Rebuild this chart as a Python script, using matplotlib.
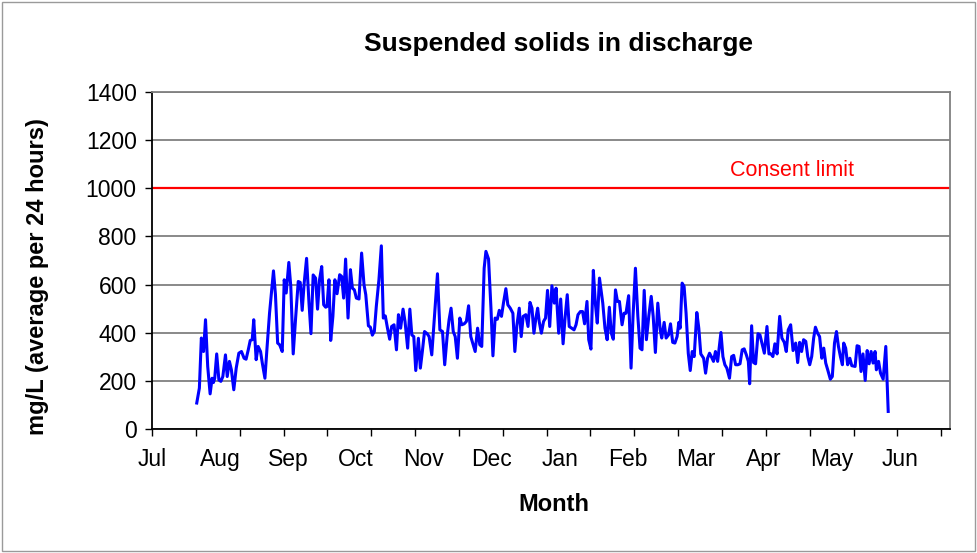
import numpy as np
import matplotlib
matplotlib.use('Agg')
import matplotlib.pyplot as plt
from matplotlib.patches import Rectangle

plt.rcParams['font.family'] = ['Liberation Sans', 'DejaVu Sans']

# daily suspended solids (mg/L), x = days from 1 Jul
day = [20.4, 21.6, 22.5, 23.5, 24.4, 25.4, 26.5, 27.4, 28.0, 28.6, 29.5, 30.5, 31.4, 32.3,
       33.5, 34.3, 35.3, 36.2, 37.3, 38.4, 39.6, 40.8, 42.0, 42.9, 43.9, 44.8, 45.7, 46.4,
       47.5, 48.4, 49.5, 50.3, 51.5, 52.5, 53.6, 54.5, 55.4, 56.3, 57.3, 58.2, 59.4, 60.3,
       61.2, 62.4, 63.3, 64.4, 65.5, 66.7, 67.6, 68.5, 69.4, 70.5, 71.6, 72.5,
       73.5, 74.6, 75.5, 76.4, 77.4, 78.3, 79.2, 79.8, 80.7, 81.5, 82.5, 83.4, 84.4, 85.6,
       86.5, 87.4, 88.3, 89.4, 90.5, 91.4, 92.3, 93.2, 94.4, 95.6, 96.7, 97.5, 98.7, 99.6,
       100.5, 101.4, 102.3, 103.5, 104.6, 105.5, 106.4, 107.4, 108.4, 109.3, 110.4, 111.5,
       112.4, 113.4, 114.5, 115.4, 116.6, 117.6, 118.5, 119.4, 120.3, 121.5, 122.4, 123.3,
       124.3, 125.5, 126.4, 127.6,
       130.2, 131.3, 132.5, 133.5, 134.6, 135.5, 136.4, 137.4, 138.3, 139.3, 140.4, 141.3,
       142.4, 143.4, 144.4, 145.4, 146.5, 147.4, 148.5, 149.5, 150.4, 151.5, 152.3, 153.5,
       154.6, 155.5, 156.5, 157.5, 158.4, 159.4, 160.3, 161.4, 162.3, 163.4, 164.6, 165.5,
       166.4, 167.5, 168.4, 169.3, 170.5, 171.5, 172.4, 173.3, 174.2, 175.1, 175.9, 176.6,
       177.6, 178.6, 179.5, 180.4, 181.4, 182.4,
       183.5, 184.3, 185.5, 186.4, 187.5, 188.4, 189.4, 190.3, 191.4, 192.5, 193.4, 194.3,
       195.4, 196.4, 197.3, 198.4, 199.2, 200.2, 201.3, 202.2, 203.1, 204.1, 205.6, 206.6,
       207.6, 208.6, 209.5, 210.4, 211.4, 212.3, 213.2, 214.4, 215.3, 216.2, 217.4, 218.5,
       219.4, 220.5, 221.6, 222.6, 223.5, 224.5, 225.5, 226.6, 227.7, 228.6, 229.6, 230.7,
       231.8, 232.5, 233.6, 234.5, 235.6, 236.5, 237.5,
       238.5, 239.5, 240.3, 240.9, 241.8, 242.7, 243.6, 244.6, 245.5, 246.4, 247.3, 248.5,
       249.4, 250.3, 251.6, 252.5, 253.4, 254.3, 255.2, 256.1, 257.0, 258.0, 259.5, 260.4,
       261.3, 262.2, 263.4, 264.4, 265.3, 266.2, 267.2, 268.2, 269.2, 270.1, 271.1, 272.0,
       272.6, 273.5, 274.4, 275.3, 276.4, 277.3, 278.4, 279.3, 280.5, 281.4, 282.3, 283.2,
       284.1, 285.1, 286.3, 287.3, 288.4, 289.3, 290.2, 291.3, 292.4,
       293.6, 294.5, 295.4, 296.3, 297.2, 298.2, 299.1, 300.0, 300.9, 301.8, 302.6, 303.6,
       304.5, 305.5, 306.4, 307.3, 308.2, 309.4, 310.3, 311.3, 312.2, 313.1, 314.0, 314.9,
       315.5, 316.4, 317.3, 318.3, 319.2, 320.7, 321.6, 322.5, 323.4, 324.3, 325.3, 326.2,
       327.1, 328.0, 328.9, 329.8, 330.4, 331.4, 332.3, 333.5, 334.7, 335.8]

tss = [108, 170, 378, 322, 454, 260, 146, 211, 193, 211, 312, 204, 198, 218,
       308, 218, 281, 246, 163, 253, 315, 322, 294, 290, 329, 368, 371, 454,
       288, 343, 322, 274, 211, 343, 481, 571, 657, 558, 357, 350, 322, 620,
       565, 692, 592, 312, 461, 613, 609, 493, 606, 709, 523, 396,
       640, 627, 498, 620, 675, 516, 506, 509, 620, 368, 468, 620, 562, 641,
       634, 544, 706, 461, 662, 585, 578, 544, 540, 731, 599, 558, 429, 423,
       390, 405, 509, 620, 761, 461, 470, 419, 373, 426, 433, 329,
       475, 419, 498, 447, 336, 498, 391, 384, 243, 377, 253, 322,
       405, 396, 384, 308,
       645, 412, 405, 267, 384, 454, 502, 405, 384, 294, 461, 433,
       437, 447, 512, 384, 350, 322, 419, 350, 343, 668, 738, 706,
       502, 304, 461, 456, 493, 468, 523, 583, 516, 502, 481, 322,
       429, 502, 384, 468, 475, 426, 526, 502, 398, 461, 502, 447,
       398, 447, 461, 576, 426, 595,
       523, 585, 398, 540, 354, 461, 558, 426, 419, 412, 433, 475,
       488, 488, 437, 530, 371, 332, 659, 523, 440, 627, 523, 419,
       371, 506, 398, 373, 578, 530, 530, 433, 481, 481, 554, 253,
       468, 668, 468, 336, 329, 576, 371, 470, 551, 468, 318, 523,
       412, 378, 443, 378, 391, 437, 360,
       357, 384, 443, 419, 606, 592, 481, 315, 243, 322, 301, 484,
       419, 312, 294, 232, 294, 315, 299, 281, 322, 281, 401, 301,
       267, 253, 211, 301, 306, 267, 267, 271, 329, 333, 308, 281,
       188, 429, 276, 271, 396, 391, 350, 315, 426, 312, 312, 301,
       354, 312, 468, 378, 360, 322, 412, 433, 326,
       357, 276, 360, 322, 371, 364, 301, 267, 301, 378, 423, 398,
       384, 294, 336, 274, 246, 207, 218, 357, 405, 343, 301, 267,
       357, 336, 267, 294, 263, 260, 346, 343, 239, 312, 202, 326,
       271, 322, 274, 322, 246, 281, 232, 207, 343, 73]

months = ['Jul', 'Aug', 'Sep', 'Oct', 'Nov', 'Dec', 'Jan', 'Feb', 'Mar', 'Apr', 'May', 'Jun']
consent_limit = 1000

fig = plt.figure(figsize=(9.77, 5.53), dpi=100)
ax = fig.add_axes([0.1556, 0.2242, 0.8168, 0.6094])

ax.plot(day, tss, color='#0000FF', lw=2.2, solid_joinstyle='round')
ax.axhline(consent_limit, color='#FF0000', lw=1.6)
ax.text(292, 1075, 'Consent limit', color='#FF0000', fontsize=15.5, ha='center', va='center')

ax.set_xlim(0, 364)
ax.set_ylim(0, 1400)
ax.set_yticks(np.arange(0, 1401, 200))
ax.yaxis.grid(True, color='#808080', lw=1.3)
ax.set_axisbelow(True)

# tick marks every 20 days, month names every 31 days (as in the original sheet)
ax.xaxis.remove_overlapping_locs = False
ax.set_xticks(np.arange(0, 361, 20))
ax.set_xticklabels([])
ax.set_xticks(np.arange(len(months)) * 31, minor=True)
ax.set_xticklabels(months, minor=True)
ax.tick_params(axis='x', which='major', length=5, width=1, direction='out')
ax.tick_params(axis='x', which='minor', length=0, pad=14, labelsize=16.5)
ax.tick_params(axis='y', length=5, width=1, pad=6, labelsize=16.5)

for s in ['left', 'bottom']:
    ax.spines[s].set_color('black')
    ax.spines[s].set_linewidth(1.3)
for s in ['right', 'top']:
    ax.spines[s].set_color('#808080')
    ax.spines[s].set_linewidth(1.3)

fig.text(0.572, 0.920, 'Suspended solids in discharge', fontsize=19, fontweight='bold',
         ha='center', va='center')
fig.text(0.567, 0.087, 'Month', fontsize=17, fontweight='bold', ha='center', va='center')
fig.text(0.038, 0.5, 'mg/L (average per 24 hours)', fontsize=17, fontweight='bold',
         ha='center', va='center', rotation=90)

fig.patches.append(Rectangle((0.002, 0.004), 0.996, 0.992, transform=fig.transFigure,
                             fill=False, edgecolor='#9a9a9a', lw=1))

fig.savefig('out.png', dpi=100)
